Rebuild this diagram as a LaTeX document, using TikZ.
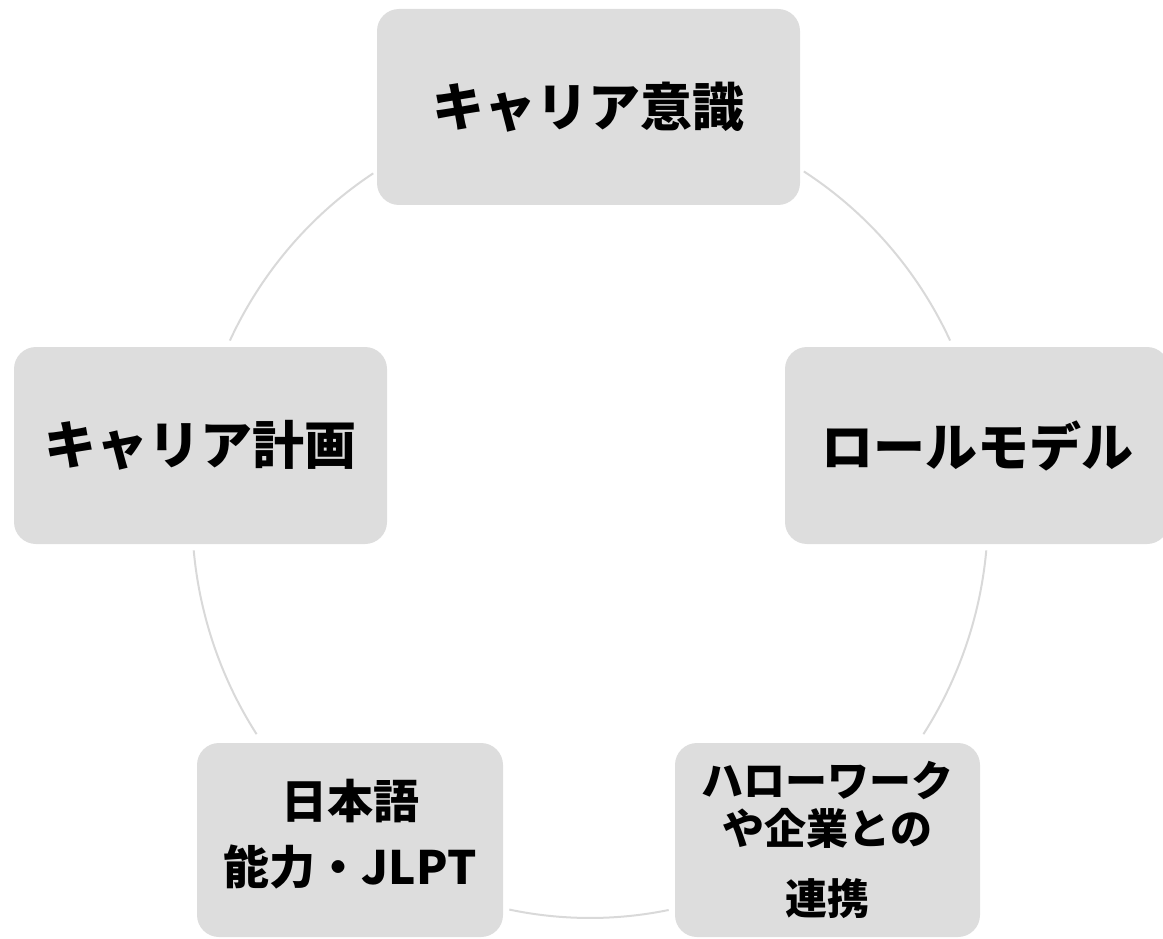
\documentclass[tikz,border=0pt]{standalone}
\usepackage{fontspec}
\newfontfamily\jpfont{Noto Sans CJK JP}[BoldFont={* Black}]
\definecolor{boxgray}{RGB}{221,221,221}
\definecolor{ringgray}{RGB}{217,217,217}
\def\Hbig{197}
\def\Hsmall{194}
\tikzstyle{every node} = [font=\jpfont\bfseries]
\tikzstyle{ring}  = [draw=ringgray, line width=2pt]
\tikzstyle{stage} = [rectangle, fill=boxgray, rounded corners=22pt, inner sep=0pt, text centered, align=center]
\tikzstyle{big}   = [font=\jpfont\bfseries\fontsize{52}{62}\selectfont]

\begin{document}
\begin{tikzpicture}[x=1pt, y=-1pt]
\useasboundingbox (0,0) rectangle (1163,939);
% Objects
    % Top
    \node (aware) [stage, big, minimum width=423, minimum height=196] at (588.5,107)   {キャリア意識};
    % Sides
    \node (plan)  [stage, big, minimum width=373, minimum height=\Hbig] at (200.5,445.5) {キャリア計画};
    \node (model) [stage, big, minimum width=384, minimum height=\Hbig] at (977,445.5)   {ロールモデル};
    % Bottom
    \node (jlpt)  [stage, minimum width=306, minimum height=\Hsmall, font=\jpfont\bfseries\fontsize{46}{66}\selectfont] at (350,840)
                  {日本語\\能力・JLPT\rule[-16pt]{0pt}{0pt}};
    \node (work)  [stage, minimum width=305, minimum height=\Hsmall, font=\jpfont\bfseries\fontsize{42}{48}\selectfont] at (827.5,840)
                  {ハローワーク\\や企業との\\[22pt]連携};

% Ring
    \coordinate (ctr) at (590,513);
    \draw [ring] ([shift={(237:398 and 405)}]ctr)   arc[start angle=237,   end angle=205.2, x radius=398, y radius=405];
    \draw [ring] ([shift={(174.7:398 and 405)}]ctr) arc[start angle=174.7, end angle=146.9, x radius=398, y radius=405];
    \draw [ring] ([shift={(101.7:398 and 405)}]ctr) arc[start angle=101.7, end angle=78.6,  x radius=398, y radius=405];
    \draw [ring] ([shift={(33.1:398 and 405)}]ctr)  arc[start angle=33.1,  end angle=5.3,   x radius=398, y radius=405];
    \draw [ring] ([shift={(-25.2:398 and 405)}]ctr) arc[start angle=-25.2, end angle=-57.5, x radius=398, y radius=405];
\end{tikzpicture}
\end{document}
